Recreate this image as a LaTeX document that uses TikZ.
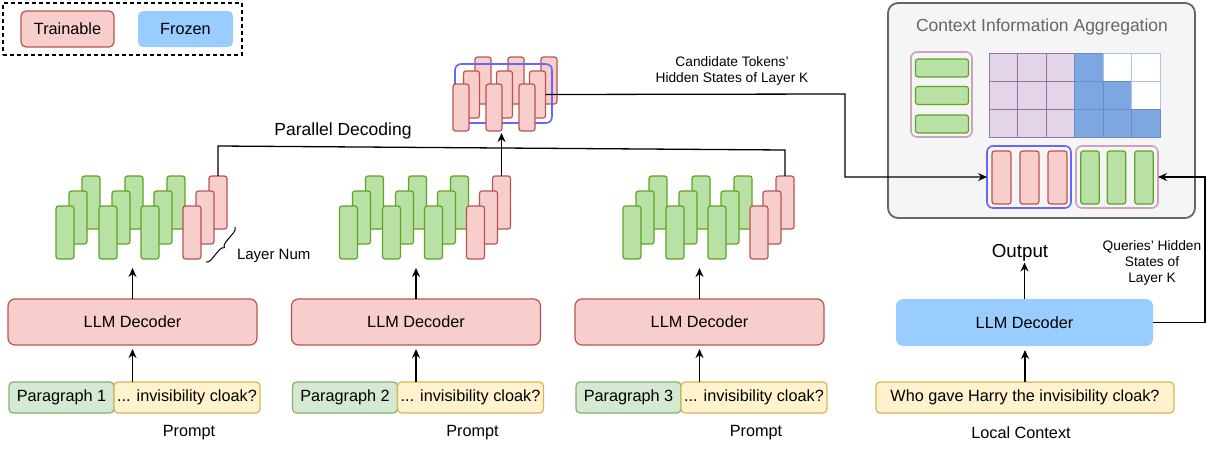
\documentclass[tikz,border=0pt]{standalone}
\usepackage{fontspec}
\setmainfont{Liberation Sans}
\usetikzlibrary{arrows.meta,decorations.pathreplacing,calc}
\definecolor{rfill}{HTML}{F8CECC}
\definecolor{rdraw}{HTML}{B85450}
\definecolor{gfill}{HTML}{D5E8D4}
\definecolor{gdraw}{HTML}{82B366}
\definecolor{sgfill}{HTML}{B9E0A5}
\definecolor{sgdraw}{HTML}{5EA523}
\definecolor{yfill}{HTML}{FFF2CC}
\definecolor{ydraw}{HTML}{D6B656}
\definecolor{bfill}{HTML}{99CCFF}
\definecolor{ctxfill}{HTML}{F5F5F5}
\definecolor{ctxdraw}{HTML}{666666}
\definecolor{pinkdraw}{HTML}{CDA2BE}
\definecolor{bluedraw}{HTML}{6666FF}
\definecolor{pfill}{HTML}{E1D5E7}
\definecolor{pdraw}{HTML}{9673A6}
\definecolor{mfill}{HTML}{7EA6E0}
\definecolor{mdraw}{HTML}{6C8EBF}
\definecolor{wdraw}{HTML}{A9C4EB}
\newcommand\fmain{\fontsize{16.25pt}{19pt}\selectfont}
\newcommand\fsm{\fontsize{13.75pt}{16.3pt}\selectfont}
\newcommand\ftit{\fontsize{17.5pt}{21pt}\selectfont}
\newcommand\fout{\fontsize{18.75pt}{22pt}\selectfont}
\newcommand\flay{\fontsize{15pt}{18pt}\selectfont}
\tikzset{
  every node/.style={inner sep=0pt, outer sep=0pt},
  redbox/.style={draw=rdraw, fill=rfill, line width=1.2pt},
  greenbox/.style={draw=gdraw, fill=gfill, line width=1.2pt},
  sgreen/.style={draw=sgdraw, fill=sgfill, line width=1.2pt},
  yellowbox/.style={draw=ydraw, fill=yfill, line width=1.2pt},
  layerbar/.style={rounded corners=2.5pt, minimum width=18pt, minimum height=53pt},
  tlayer/.style={redbox, rounded corners=2.5pt, minimum width=16pt, minimum height=47pt},
  stk1/.style={sgreen}, stk2/.style={sgreen}, stk3/.style={sgreen}, stk4/.style={redbox},
  dec/.style={redbox, rounded corners=7pt, minimum width=249pt, minimum height=46pt, font=\fmain},
  para/.style={greenbox, rounded corners=4pt, minimum width=105pt, minimum height=31pt, font=\fmain},
  quest/.style={yellowbox, rounded corners=4pt, minimum width=146pt, minimum height=31pt, font=\fmain},
  lbl/.style={font=\fmain},
  arr/.style={line width=1.3pt, -{Stealth[length=9pt,width=8pt]}},
  conn/.style={line width=1.3pt},
  cell0/.style={fill=pfill, draw=pdraw, line width=1pt},
  cell1/.style={fill=mfill, draw=mdraw, line width=1pt},
  cell2/.style={fill=white, draw=wdraw, line width=1pt},
}
\begin{document}
\begin{tikzpicture}[x=1pt,y=-1pt]
\useasboundingbox (0,0) rectangle (1213,450);
% legend
\node[draw, dashed, line width=1.3pt, dash pattern=on 4pt off 3pt, minimum width=239pt, minimum height=52pt] (legend) at (122.5,29) {};
\node[redbox, rounded corners=5pt, minimum width=93pt, minimum height=36pt, font=\fmain] (trainable) at (67.5,29) {Trainable};
\node[fill=bfill, rounded corners=5pt, minimum width=95pt, minimum height=36pt, font=\fmain] (frozen) at (185.5,29) {Frozen};

% three stacks of layers
\foreach \sI/\ox in {1/0,2/283.5,3/567}{
  \foreach \cI/\cx in {1/0,2/43,3/85,4/127}{
    \foreach \lI in {2,1,0}{
      \node[layerbar, stk\cI] (s\sI-c\cI-l\lI) at ({65+\ox+\cx+13*\lI},{232.5-15*\lI}) {};
    }
  }
}

% top stack of candidate tokens
\foreach \kI in {0,1,2}{
  \node[tlayer] (t\kI-l2) at ({483+33*\kI},80.5) {};
}
\node[draw=bluedraw, line width=1.6pt, rounded corners=6pt, minimum width=97pt, minimum height=59pt] (cand) at (503.5,93.5) {};
\foreach \kI in {0,1,2}{
  \node[tlayer] (t\kI-l1) at ({471.5+33*\kI},94.5) {};
}
\foreach \kI in {0,1,2}{
  \node[tlayer] (t\kI-l0) at ({461+33*\kI},107.5) {};
}

% decoders and prompts
\foreach \i/\cx/\px in {1/132.5/61.5,2/416/345,3/699.5/628.5}{
  \node[dec] (dec\i) at (\cx,322) {LLM Decoder};
  \node[para] (p\i) at (\px,397.5) {Paragraph \i};
  \node[quest] (y\i) at ({\px+125.5},397.5) {... invisibility cloak?};
  \node[lbl] (prompt\i) at ({\px+127.5},433) {Prompt};
  \draw[arr, shorten >=4pt] (dec\i.south |- y\i.north) -- (dec\i.south);
  \draw[arr, shorten >=9pt] (dec\i.north) -- (dec\i.north |- s\i-c1-l0.south);
}

% layer num brace
\draw[decorate, decoration={brace, mirror, amplitude=5pt}, line width=1pt] (206,262) -- (235,227);
\node[font=\flay, anchor=west] (laynum) at (237,256) {Layer Num};

% parallel decoding
\draw[conn] (s1-c4-l2.north) -- ++(0,-30) -- ($(s3-c4-l2.north)+(0,-26)$) -- (s3-c4-l2.north);
\draw[arr, shorten >=2pt] (s2-c4-l2.north) -- (s2-c4-l2.north |- t1-l0.south);
\node[font=\ftit] (pdlabel) at (343,131) {Parallel Decoding};

% candidate tokens label
\node[font=\fsm, align=center] (candlabel) at (732,71) {Candidate Tokens'\\Hidden States of Layer K};

% context information aggregation
\node[fill=ctxfill, draw=ctxdraw, line width=1.8pt, rounded corners=10pt, minimum width=307pt, minimum height=215pt] (ctx) at (1041.5,110.5) {};
\node[font=\ftit, text=ctxdraw] (ctxtitle) at (1042,27) {Context Information Aggregation};
\node[draw=pinkdraw, line width=1.6pt, rounded corners=6pt, minimum width=61pt, minimum height=85pt] (qbox1) at (941.5,94.5) {};
\foreach \yy/\j in {68/1,95.5/2,124/3}{
  \node[sgreen, rounded corners=2.5pt, minimum width=53pt, minimum height=18pt] (h\j) at (942,\yy) {};
}
\foreach \rI in {0,1,2}{
  \foreach \cI in {0,...,5}{
    \pgfmathtruncatemacro\cls{\cI<3 ? 0 : (\cI>\rI+3 ? 2 : 1)}
    \draw[cell\cls] ({989+28.5*\cI},{53+28.33*\rI}) rectangle ++(28.5,28.33);
  }
}
\node[draw=bluedraw, line width=1.6pt, rounded corners=6pt, minimum width=84pt, minimum height=62pt] (candbox) at (1029,177) {};
\foreach \xx/\j in {1001.5/1,1029.5/2,1057.5/3}{
  \node[redbox, rounded corners=2.5pt, minimum width=19pt, minimum height=53pt] (cr\j) at (\xx,177.5) {};
}
\node[draw=pinkdraw, line width=1.6pt, rounded corners=6pt, minimum width=82pt, minimum height=62pt] (qbox2) at (1117,177) {};
\foreach \xx/\j in {1090/1,1116.5/2,1144/3}{
  \node[sgreen, rounded corners=2.5pt, minimum width=18.5pt, minimum height=53pt] (qg\j) at (\xx,177.5) {};
}

% candidate connector
\coordinate (cc) at (845,94);
\draw[arr] (t2-l1.east) -- (cc) |- (candbox.west);

% local side
\node[fill=bfill, rounded corners=7pt, minimum width=257pt, minimum height=47pt, font=\fmain] (dec4) at (1024.5,322.5) {LLM Decoder};
\node[yellowbox, rounded corners=4pt, minimum width=298pt, minimum height=31pt, font=\fmain] (q4) at (1025,397.5) {Who gave Harry the invisibility cloak?};
\node[lbl] (local) at (1021,433) {Local Context};
\node[font=\fout] (output) at (1020,253) {Output};
\draw[arr, shorten >=4pt] (q4.north) -- (q4.north |- dec4.south);
\draw[arr, shorten >=1pt] (dec4.north) -- (dec4.north |- output.south);
\coordinate (qc) at (1205,177);
\draw[arr] (dec4.east) -| (qc) -- (qbox2.east);
\node[font=\fsm, align=center] (qlabel) at (1152,263) {Queries' Hidden\\States of\\Layer K};
\end{tikzpicture}
\end{document}
